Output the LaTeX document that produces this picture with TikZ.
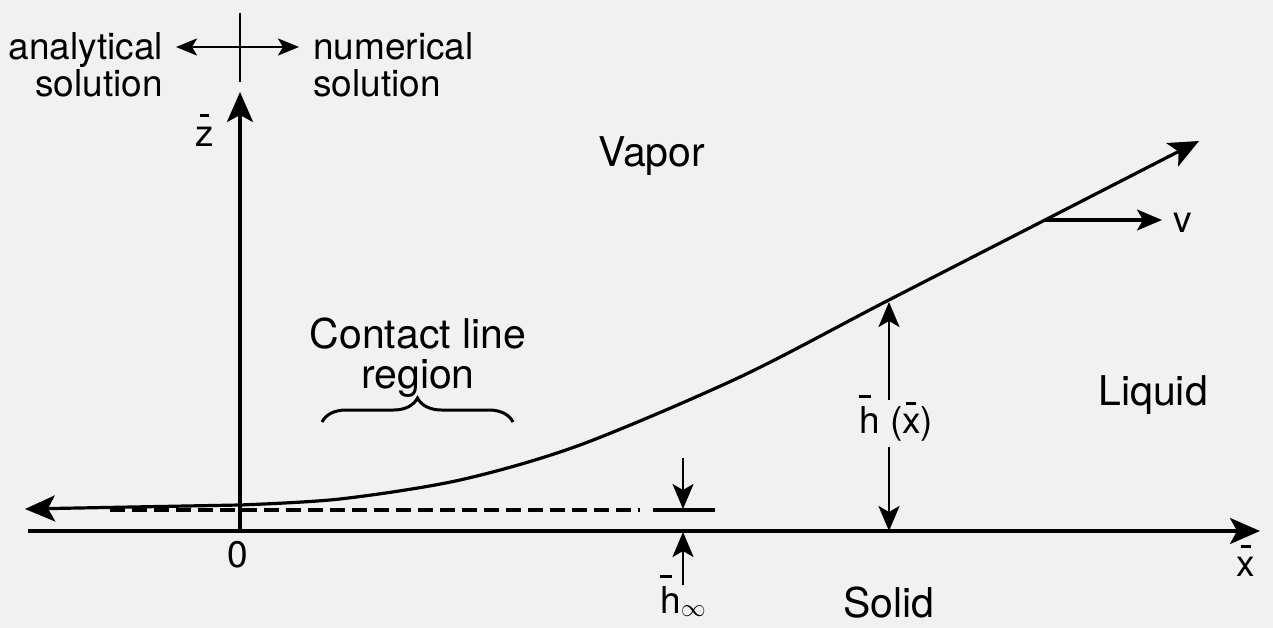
\documentclass[tikz,border=0pt]{standalone}
\usepackage{fontspec}
\setmainfont{TeX Gyre Heros}
\usetikzlibrary{arrows.meta,decorations.pathreplacing}
\definecolor{bg}{RGB}{241,241,241}
% letter with a short bar above: #1 letter, #2 shift, #3 raise, #4 bar width
\newcommand\ovl[4]{\leavevmode\rlap{\hspace*{#2}\rule[#3]{#4}{2.8pt}}#1}
\tikzset{
  big/.style={font=\fontsize{41}{44}\selectfont, inner sep=0pt},
  sml/.style={font=\fontsize{37}{37}\selectfont, inner sep=0pt},
  ln/.style={line width=3.2pt},
  thin/.style={line width=2.6pt},
  bigarrow/.style={-{Stealth[length=30pt,width=26pt,inset=7pt]}},
  smlarrow/.style={-{Stealth[length=25pt,width=21pt,inset=6pt]}},
}
\begin{document}
\begin{tikzpicture}[x=1pt,y=-1pt]
\fill[bg] (0,0) rectangle (1273,628);
\useasboundingbox (0,0) rectangle (1273,628);

% coordinates
\coordinate (xl) at (28,531);
\coordinate (xr) at (1260,531);
\coordinate (o) at (240,531);
\coordinate (zt) at (240,92);
\coordinate (dt) at (240,13);
\coordinate (db) at (240,82);
\coordinate (al) at (176,47);
\coordinate (ar) at (299,47);
\coordinate (cl) at (25,509);
\coordinate (vs) at (1045,220);
\coordinate (ve) at (1162,220);
\coordinate (dl) at (110,510);
\coordinate (dr) at (640,510);
\coordinate (sl) at (653,510);
\coordinate (sr) at (715,510);
\coordinate (hit) at (683,458);
\coordinate (hitip) at (683,509);
\coordinate (hib) at (683,585);
\coordinate (hibtip) at (683,532);
\coordinate (hxc) at (889,302);
\coordinate (hxa) at (889,400);
\coordinate (hxb) at (889,447);
\coordinate (hxg) at (889,531);
\coordinate (bl) at (322,422);
\coordinate (br) at (513,422);

% axes
\draw[ln,bigarrow] (xl) -- (xr);
\draw[ln,bigarrow] (o) -- (zt);

% top divider and double arrow
\draw[thin] (dt) -- (db);
\draw[thin,-{Stealth[length=21pt,width=17pt,inset=5pt]}] (dt |- al) -- (al);
\draw[thin,-{Stealth[length=21pt,width=17pt,inset=5pt]}] (dt |- al) -- (ar);

% profile curve
\draw[ln,{Stealth[length=30pt,width=26pt,inset=7pt]}-{Stealth[length=30pt,width=26pt,inset=7pt]}]
  (cl) -- plot[smooth,tension=0.5] coordinates {(240,505) (340,499) (460,480) (580,445) (740,377) (885,302) (1045,220) (1199,141)};

% velocity
\draw[ln,smlarrow] (vs) -- (ve);

% precursor film (dashed) and h_inf marker
\draw[ln,dash pattern=on 15pt off 7pt] (dl) -- (dr);
\draw[ln] (sl) -- (sr);
\draw[thin,smlarrow] (hit) -- (hitip);
\draw[thin,smlarrow] (hib) -- (hibtip);

% h(x) marker
\draw[thin,smlarrow] (hxa) -- (hxc);
\draw[thin,smlarrow] (hxb) -- (hxg);

% brace
\draw[line width=3pt,decorate,decoration={brace,amplitude=24pt}] (bl) -- (br);

% labels
\node[sml,anchor=base east] (an1) at (163,60) {analytical};
\node[sml,anchor=base east] (an2) at (163,97) {solution};
\node[sml,anchor=base west] (nu1) at (313,60) {numerical};
\node[sml,anchor=base west] (nu2) at (313,97) {solution};
\node[sml,anchor=base] (zl) at (205,147) {\ovl{z}{4pt}{30pt}{9pt}};
\node[big,anchor=base west] (vap) at (598,167) {Vapor};
\node[big,anchor=base] (cl1) at (418,348) {Contact line};
\node[big,anchor=base] (cl2) at (418,388) {region};
\node[big,anchor=base west] (liq) at (1098,405) {Liquid};
\node[big,anchor=base west] (sol) at (843,617) {Solid};
\node[sml,anchor=base] (zero) at (238,567) {0};
\node[sml,anchor=base] (xlab) at (1246,576) {\ovl{x}{4pt}{28pt}{10pt}};
\node[sml,anchor=base west] (hinf) at (660,613) {\ovl{h}{0pt}{35pt}{12pt}$_{\infty}$};
\node[sml,anchor=base west] (hx) at (859,433) {\ovl{h}{0pt}{35pt}{12pt} (\ovl{x}{4pt}{28pt}{10pt})};
\node[sml,anchor=base west] (vl) at (1173,233) {v};
\end{tikzpicture}
\end{document}
